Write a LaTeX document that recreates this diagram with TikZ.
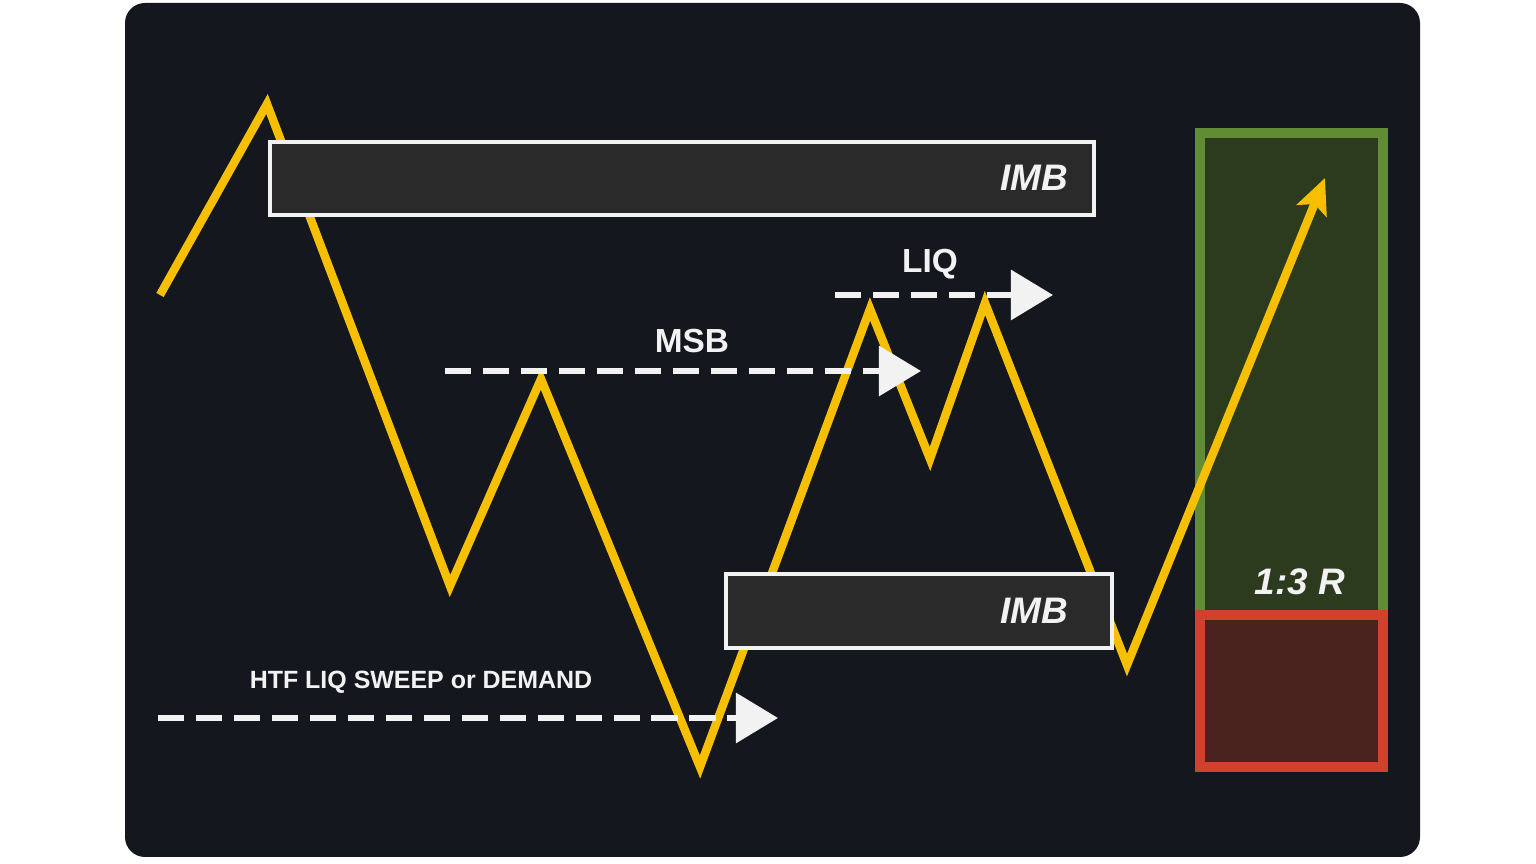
\documentclass[tikz,border=0pt]{standalone}
\usepackage{fontspec}
\setmainfont{Liberation Sans}
\usetikzlibrary{arrows.meta}
\definecolor{panel}{RGB}{21,23,30}
\definecolor{price}{RGB}{246,192,0}
\definecolor{imbfill}{RGB}{42,42,42}
\definecolor{tpline}{RGB}{96,140,52}
\definecolor{tpfill}{RGB}{44,58,30}
\definecolor{slline}{RGB}{208,66,44}
\definecolor{slfill}{RGB}{74,34,30}
\definecolor{ink}{RGB}{242,242,242}
\tikzset{
  pricepath/.style={price, line width=2.4pt, miter limit=10},
  imbbox/.style={draw=ink, fill=imbfill, line width=1.2pt},
  levelarrow/.style={ink, line width=1.8pt, dash pattern=on 7.5pt off 3.3pt,
    -{Triangle[length=12pt,width=14pt]}},
  lbl/.style={text=ink, font=\bfseries},
  imblbl/.style={text=ink, font=\fontsize{10.5}{12}\selectfont\bfseries\itshape}
}
\begin{document}
\begin{tikzpicture}
  \useasboundingbox (0,0) rectangle (15.36,8.64);
  \fill[white] (0,0) rectangle (15.36,8.64);
  \fill[panel, rounded corners=0.2cm] (1.25,0.07) rectangle (14.20,8.61);

  \draw[tpline, fill=tpfill, line width=2.85pt] (12.00,7.31) rectangle (13.83,2.49);
  \draw[slline, fill=slfill, line width=2.85pt] (12.00,2.49) rectangle (13.83,0.97);

  \draw[pricepath, -{Stealth[length=10pt,width=9pt,inset=2pt]}]
    (1.60,5.69) -- (2.67,7.60) -- (4.50,2.78) -- (5.41,4.85) -- (7.00,0.97)
    -- (8.70,5.55) -- (9.30,4.05) -- (9.85,5.61) -- (11.27,1.99) -- (13.25,6.86);

  \draw[imbbox] (2.70,7.22) rectangle (10.94,6.49);
  \draw[imbbox] (7.26,2.90) rectangle (11.12,2.16);

  \draw[levelarrow] (1.58,1.46) -- (7.78,1.46);
  \draw[levelarrow] (4.45,4.93) -- (9.21,4.93);
  \draw[levelarrow] (8.35,5.69) -- (10.53,5.69);

  \node[imblbl] (imbtop) at (10.34,6.86) {IMB};
  \node[imblbl] (imbbot) at (10.34,2.53) {IMB};
  \node[imblbl] (ratio) at (13.00,2.82) {1:3 R};
  \node[lbl, font=\fontsize{9.5}{11}\selectfont\bfseries] (liq) at (9.30,6.00) {LIQ};
  \node[lbl, font=\fontsize{9.5}{11}\selectfont\bfseries] (msb) at (6.92,5.23) {MSB};
  \node[lbl, font=\fontsize{7.1}{8}\selectfont\bfseries] (htf) at (4.21,1.82) {HTF LIQ SWEEP or DEMAND};
\end{tikzpicture}
\end{document}
